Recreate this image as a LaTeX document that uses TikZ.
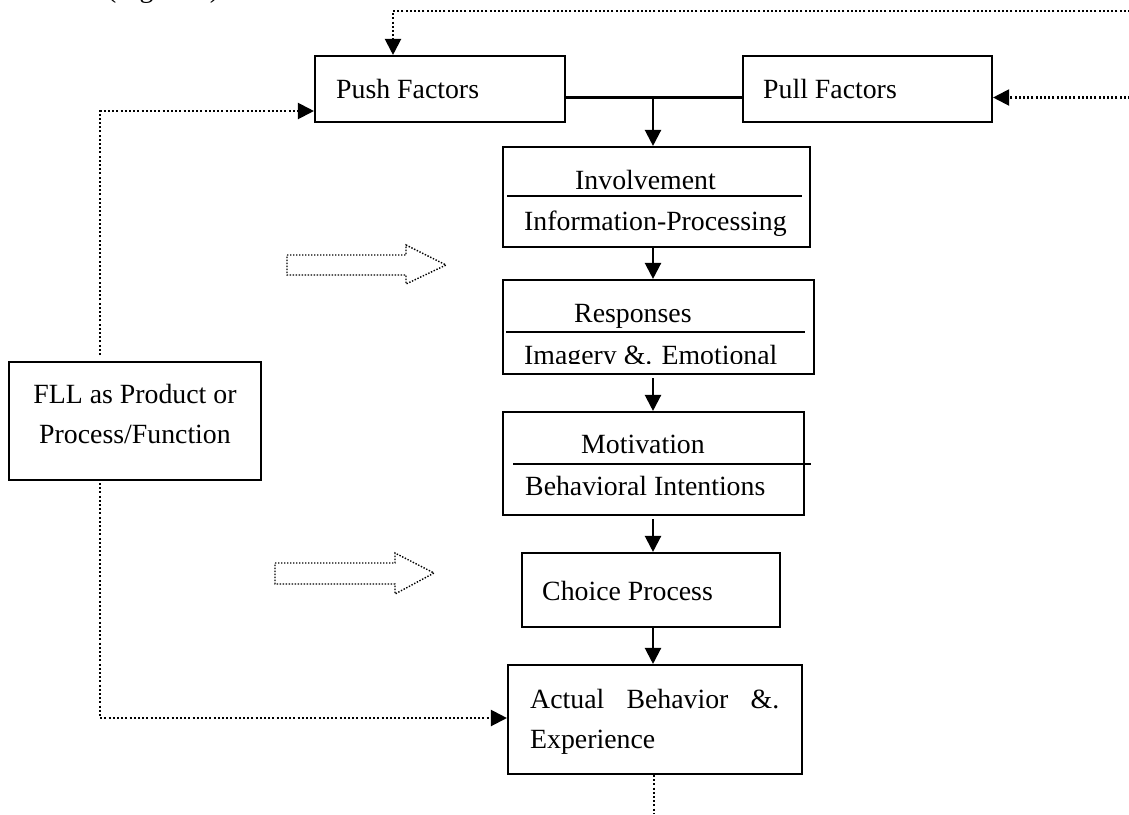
\documentclass[tikz,border=0pt]{standalone}
\usepackage{fontspec}
\setmainfont{Liberation Serif}
\usetikzlibrary{arrows.meta}
\newcommand\figfont{\fontsize{27.8}{34}\selectfont}
\begin{document}
\begin{tikzpicture}[x=1pt,y=-1pt,
  box/.style={draw, line width=2.1pt, inner sep=0pt},
  txt/.style={inner sep=0pt, font=\figfont, anchor=base west},
  ctxt/.style={inner sep=0pt, font=\figfont, anchor=base},
  solidarrow/.style={line width=2.2pt, -{Triangle[length=16pt,width=16pt]}},
  dotline/.style={line width=2.1pt, dash pattern=on 2pt off 2.2pt},
  dotarrow/.style={dotline, -{Triangle[length=16pt,width=16pt]}},
  sepline/.style={line width=2pt},
  hollow/.style={line width=1.4pt, dash pattern=on 1.4pt off 1.6pt}]
\path[use as bounding box, clip] (0,0) rectangle (1129,814);

% cut-off caption text at top edge
\node[txt] (fig) at (107,-3) {(Figure 1)};

% boxes
\node[box, minimum width=250pt, minimum height=66pt] (push) at (440,89) {};
\node[box, minimum width=249pt, minimum height=66pt] (pull) at (867.5,89) {};
\node[box, minimum width=307pt, minimum height=100pt] (invol) at (656.5,197) {};
\node[box, minimum width=311pt, minimum height=94pt] (resp) at (658.5,327) {};
\node[box, minimum width=301pt, minimum height=103pt] (motiv) at (653.5,463.5) {};
\node[box, minimum width=258pt, minimum height=74pt] (choice) at (651,590) {};
\node[box, minimum width=294pt, minimum height=109pt] (act) at (655,719.5) {};
\node[box, minimum width=252pt, minimum height=118pt] (fll) at (135,421) {};

% texts
\node[txt] (tpush) at (336,98) {Push Factors};
\node[txt] (tpull) at (763,98) {Pull Factors};
\node[txt] (tinv1) at (575,189) {Involvement};
\node[txt] (tinv2) at (524,230) {Information-Processing};
\node[txt] (tres1) at (574,322) {Responses};
\begin{scope}
  \clip (500,282) rectangle (812,363);
  \node[txt] (tres2) at (524,364) {Imagery \&. Emotional};
\end{scope}
\node[txt] (tmot1) at (581,453) {Motivation};
\node[txt] (tmot2) at (525,495) {Behavioral Intentions};
\node[txt] (tcho) at (542,600) {Choice Process};
\node[txt] (tact1) at (530,708) {\makebox[249pt][s]{Actual Behavior \&.}};
\node[txt] (tact2) at (530,748) {Experience};
\node[ctxt] (tfll1) at (135,403) {FLL as Product or};
\node[ctxt] (tfll2) at (135,443) {Process/Function};

% separator lines inside boxes
\draw[sepline] (507,196) -- (802,196);
\draw[sepline] (506,332) -- (805,332);
\draw[sepline] (513,464) -- (811,464);

% solid connectors
\coordinate (j) at (653,97.5);
\draw[line width=2.1pt] (push.east |- j) -- (pull.west |- j);
\draw[solidarrow] (j) -- (j |- invol.north);
\draw[solidarrow] (j |- invol.south) -- (j |- resp.north);
\draw[solidarrow] ([yshift=-3pt]j |- resp.south) -- (j |- motiv.north);
\draw[solidarrow] ([yshift=-3pt]j |- motiv.south) -- (j |- choice.north);
\draw[solidarrow] (j |- choice.south) -- (j |- act.north);

% dotted connectors
\coordinate (tr) at (1130,11);
\coordinate (tl) at (393,11);
\draw[dotarrow] (tr) -- (tl) -- (tl |- push.north);
\coordinate (pr) at (1130,97.5);
\draw[dotarrow] (pr) -- (pr -| pull.east);
\coordinate (lu) at (100,111);
\coordinate (fllt) at (100,355);
\draw[dotarrow] (fllt) -- (lu) -- (lu -| push.west);
\coordinate (fllb) at (100,483);
\coordinate (ll) at (100,718);
\draw[dotarrow] (fllb) -- (ll) -- (ll -| act.west);
\coordinate (bot) at (654,814);
\draw[dotline] (act.south -| bot) -- (bot);

% hollow dotted arrows
\draw[hollow] (287,255) -- (406,255) -- (406,245) -- (446,265) -- (406,284) -- (406,275) -- (287,275) -- cycle;
\draw[hollow] (275,563) -- (395,563) -- (395,553) -- (434,573) -- (395,594) -- (395,584) -- (275,584) -- cycle;
\end{tikzpicture}
\end{document}
